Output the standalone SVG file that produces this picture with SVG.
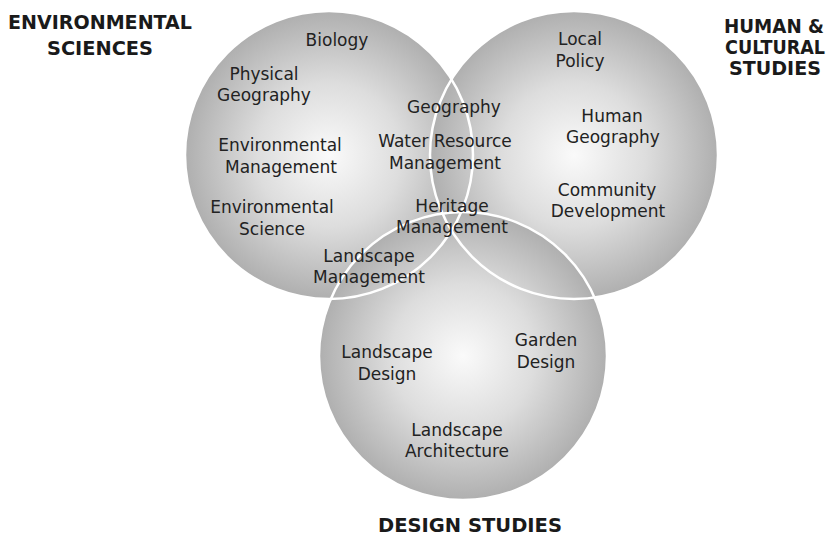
<svg xmlns="http://www.w3.org/2000/svg" width="832" height="536" viewBox="0 0 832 536">
<style>
.t{font-family:"DejaVu Sans","Verdana",sans-serif;font-size:17px;fill:#222;text-anchor:middle}
.h{font-family:"DejaVu Sans","Verdana",sans-serif;font-size:20px;font-weight:bold;fill:#1a1a1a;text-anchor:middle}
.hs{font-family:"DejaVu Sans","Verdana",sans-serif;font-size:19px;font-weight:bold;fill:#1a1a1a;text-anchor:middle}
.ring{fill:none;stroke:#fff;stroke-width:2.5}
</style>
<defs>
<radialGradient id="g" cx="0.5" cy="0.5" r="0.5">
<stop offset="0" stop-color="#fafafa"/>
<stop offset="0.5" stop-color="#dddddd"/>
<stop offset="1" stop-color="#afafaf"/>
</radialGradient>
</defs>
<rect width="832" height="536" fill="#fff"/>
<g id="circles">
<circle id="c-env" cx="329" cy="155" r="144" fill="url(#g)"/>
<circle id="c-hum" cx="574" cy="155" r="144" fill="url(#g)"/>
<circle id="c-des" cx="463" cy="356" r="144" fill="url(#g)"/>
</g>
<g id="outlines">
<circle class="ring" cx="329" cy="155" r="144"/>
<circle class="ring" cx="574" cy="155" r="144"/>
<circle class="ring" cx="463" cy="356" r="144"/>
</g>
<g id="headers">
<text class="h" x="100" y="29" textLength="184" lengthAdjust="spacingAndGlyphs">ENVIRONMENTAL</text>
<text class="h" x="100" y="55" textLength="106" lengthAdjust="spacingAndGlyphs">SCIENCES</text>
<text class="hs" x="774" y="33" textLength="100" lengthAdjust="spacingAndGlyphs">HUMAN &amp;</text>
<text class="hs" x="775" y="54" textLength="100" lengthAdjust="spacingAndGlyphs">CULTURAL</text>
<text class="hs" x="775" y="75" textLength="92" lengthAdjust="spacingAndGlyphs">STUDIES</text>
<text class="h" x="470" y="532" textLength="184" lengthAdjust="spacingAndGlyphs">DESIGN STUDIES</text>
</g>
<g id="labels">
<text class="t" x="337" y="46">Biology</text>
<text class="t" x="264" y="80">Physical</text>
<text class="t" x="264" y="101">Geography</text>
<text class="t" x="280" y="151">Environmental</text>
<text class="t" x="281" y="173">Management</text>
<text class="t" x="272" y="213">Environmental</text>
<text class="t" x="272" y="235">Science</text>
<text class="t" x="369" y="262">Landscape</text>
<text class="t" x="369" y="283">Management</text>
<text class="t" x="454" y="113">Geography</text>
<text class="t" x="445" y="147">Water Resource</text>
<text class="t" x="445" y="169">Management</text>
<text class="t" x="452" y="212">Heritage</text>
<text class="t" x="452" y="233">Management</text>
<text class="t" x="580" y="45">Local</text>
<text class="t" x="580" y="67">Policy</text>
<text class="t" x="612" y="122">Human</text>
<text class="t" x="613" y="143">Geography</text>
<text class="t" x="607" y="196">Community</text>
<text class="t" x="608" y="217">Development</text>
<text class="t" x="387" y="358">Landscape</text>
<text class="t" x="387" y="380">Design</text>
<text class="t" x="546" y="346">Garden</text>
<text class="t" x="546" y="368">Design</text>
<text class="t" x="457" y="436">Landscape</text>
<text class="t" x="457" y="457">Architecture</text>
</g>
</svg>
